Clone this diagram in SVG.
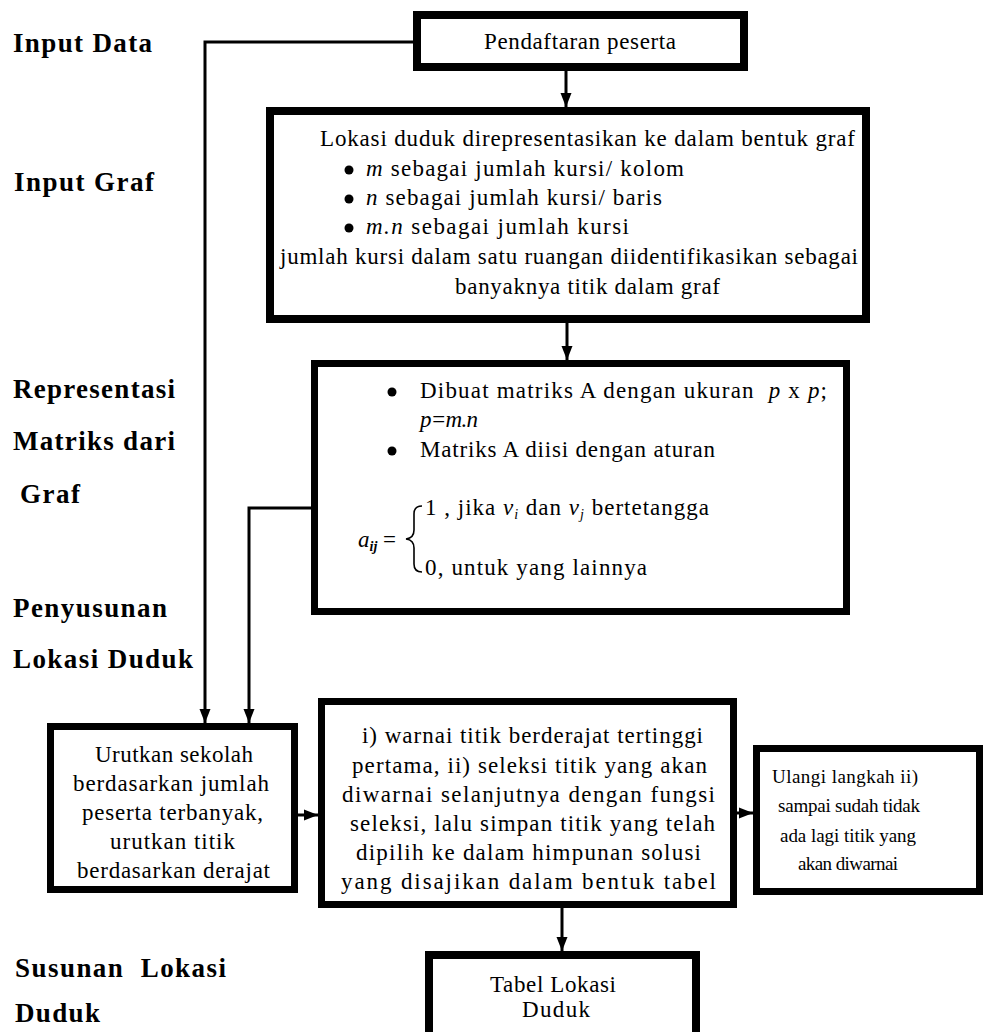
<svg xmlns="http://www.w3.org/2000/svg" width="985" height="1032" viewBox="0 0 985 1032">
<defs>
<marker id="ah" markerUnits="userSpaceOnUse" markerWidth="14" markerHeight="14" viewBox="0 0 14 14" refX="14" refY="7" orient="auto">
<path d="M0,1.5 L14,7 L0,12.5 Z" fill="#000"/>
</marker>
<style>
.box{fill:#fff;stroke:#000;stroke-width:8}
.box7{fill:#fff;stroke:#000;stroke-width:7}
.t{font-family:"Liberation Serif","Times New Roman",serif;font-size:23px;fill:#000}
.s{font-size:19px}
.lab{font-family:"Liberation Serif","Times New Roman",serif;font-size:27px;font-weight:bold;fill:#000}
.c{fill:none;stroke:#000;stroke-width:3}
.i{font-style:italic}
</style>
</defs>
<rect width="985" height="1032" fill="#fff"/>

<g id="labels">
<text class="lab" x="13" y="52" textLength="139" lengthAdjust="spacing">Input Data</text>
<text class="lab" x="14" y="191" textLength="140" lengthAdjust="spacing">Input Graf</text>
<text class="lab" x="13" y="398" textLength="162" lengthAdjust="spacing">Representasi</text>
<text class="lab" x="13" y="450" textLength="162" lengthAdjust="spacing">Matriks dari</text>
<text class="lab" x="20" y="503" textLength="60" lengthAdjust="spacing">Graf</text>
<text class="lab" x="13" y="617" textLength="154" lengthAdjust="spacing">Penyusunan</text>
<text class="lab" x="13" y="668" textLength="180" lengthAdjust="spacing">Lokasi Duduk</text>
<text class="lab" x="15" y="977" textLength="211" lengthAdjust="spacing" xml:space="preserve">Susunan  Lokasi</text>
<text class="lab" x="15" y="1022" textLength="85" lengthAdjust="spacing">Duduk</text>
</g>

<g id="connectors">
<polyline class="c" points="413,42 205,42 205,723" marker-end="url(#ah)"/>
<line class="c" x1="566" y1="71" x2="566" y2="107" marker-end="url(#ah)"/>
<line class="c" x1="567" y1="323" x2="567" y2="360" marker-end="url(#ah)"/>
<polyline class="c" points="311,508 249,508 249,723" marker-end="url(#ah)"/>
<line class="c" x1="298" y1="815" x2="318" y2="815" marker-end="url(#ah)"/>
<line class="c" x1="737" y1="813" x2="753" y2="813" marker-end="url(#ah)"/>
<line class="c" x1="562" y1="908" x2="562" y2="951" marker-end="url(#ah)"/>
</g>

<g id="n1">
<rect class="box" x="417" y="15" width="327" height="52"/>
<text class="t" x="484" y="49" textLength="192" lengthAdjust="spacing">Pendaftaran peserta</text>
</g>

<g id="n2">
<rect class="box" x="270" y="111" width="596" height="208"/>
<text class="t" x="320" y="146" textLength="535" lengthAdjust="spacing">Lokasi duduk direpresentasikan ke dalam bentuk graf</text>
<circle cx="349" cy="170" r="4.5"/>
<text class="t" x="366" y="176" textLength="318" lengthAdjust="spacing"><tspan class="i">m</tspan> sebagai jumlah kursi/ kolom</text>
<circle cx="349" cy="199" r="4.5"/>
<text class="t" x="366" y="205" textLength="296" lengthAdjust="spacing"><tspan class="i">n</tspan> sebagai jumlah kursi/ baris</text>
<circle cx="349" cy="228" r="4.5"/>
<text class="t" x="366" y="234" textLength="263" lengthAdjust="spacing"><tspan class="i">m.n</tspan> sebagai jumlah kursi</text>
<text class="t" x="280" y="264" textLength="578" lengthAdjust="spacing">jumlah kursi dalam satu ruangan diidentifikasikan sebagai</text>
<text class="t" x="455" y="294" textLength="265" lengthAdjust="spacing">banyaknya titik dalam graf</text>
</g>

<g id="n3">
<rect class="box7" x="314.5" y="363.5" width="532" height="248"/>
<circle cx="392" cy="392" r="4.5"/>
<text class="t" x="420" y="398" textLength="407" lengthAdjust="spacing" xml:space="preserve">Dibuat matriks A dengan ukuran  <tspan class="i">p</tspan> x <tspan class="i">p</tspan>;</text>
<text class="t i" x="420" y="427" textLength="58" lengthAdjust="spacing">p=m.n</text>
<circle cx="392" cy="451" r="4.5"/>
<text class="t" x="420" y="457" textLength="295" lengthAdjust="spacing">Matriks A diisi dengan aturan</text>
<text class="t" x="358" y="547"><tspan class="i">a</tspan><tspan class="i" font-weight="bold" font-size="14" dy="4">ij</tspan><tspan dy="-4"> =</tspan></text>
<path d="M422,506 Q414,506 414,514 L414,530 Q414,538 406,539 Q414,540 414,548 L414,564 Q414,572 422,572" fill="none" stroke="#000" stroke-width="1.6"/>
<text class="t" x="425" y="515" textLength="284" lengthAdjust="spacing">1 , jika <tspan class="i">v</tspan><tspan class="i" font-size="14" dy="4">i</tspan><tspan dy="-4"> dan </tspan><tspan class="i">v</tspan><tspan class="i" font-size="14" dy="4">j</tspan><tspan dy="-4"> bertetangga</tspan></text>
<text class="t" x="425" y="575" textLength="222" lengthAdjust="spacing">0, untuk yang lainnya</text>
</g>

<g id="n4">
<rect class="box7" x="50.5" y="726.5" width="244" height="163"/>
<text class="t" x="95" y="762" textLength="158" lengthAdjust="spacing">Urutkan sekolah</text>
<text class="t" x="73" y="791" textLength="196" lengthAdjust="spacing">berdasarkan jumlah</text>
<text class="t" x="82" y="820" textLength="181" lengthAdjust="spacing">peserta terbanyak,</text>
<text class="t" x="110" y="849" textLength="125" lengthAdjust="spacing">urutkan titik</text>
<text class="t" x="77" y="878" textLength="193" lengthAdjust="spacing">berdasarkan derajat</text>
</g>

<g id="n5">
<rect class="box7" x="321.5" y="701.5" width="412" height="203"/>
<text class="t" x="362" y="743" textLength="341" lengthAdjust="spacing">i) warnai titik berderajat tertinggi</text>
<text class="t" x="352" y="773" textLength="355" lengthAdjust="spacing">pertama, ii) seleksi titik yang akan</text>
<text class="t" x="342" y="802" textLength="373" lengthAdjust="spacing">diwarnai selanjutnya dengan fungsi</text>
<text class="t" x="350" y="831" textLength="365" lengthAdjust="spacing">seleksi, lalu simpan titik yang telah</text>
<text class="t" x="356" y="860" textLength="345" lengthAdjust="spacing">dipilih ke dalam himpunan solusi</text>
<text class="t" x="341" y="889" textLength="375" lengthAdjust="spacing">yang disajikan dalam bentuk tabel</text>
</g>

<g id="n7">
<rect class="box7" x="756.5" y="748.5" width="223" height="143"/>
<text class="t s" x="772" y="783" textLength="146" lengthAdjust="spacing">Ulangi langkah ii)</text>
<text class="t s" x="778" y="812" textLength="142" lengthAdjust="spacing">sampai sudah tidak</text>
<text class="t s" x="780" y="842" textLength="136" lengthAdjust="spacing">ada lagi titik yang</text>
<text class="t s" x="798" y="870" textLength="100" lengthAdjust="spacing">akan diwarnai</text>
</g>

<g id="n6">
<rect class="box" x="429" y="955" width="267" height="90"/>
<text class="t" x="490" y="992" textLength="126" lengthAdjust="spacing">Tabel Lokasi</text>
<text class="t" x="522" y="1017" textLength="68" lengthAdjust="spacing">Duduk</text>
</g>
</svg>
